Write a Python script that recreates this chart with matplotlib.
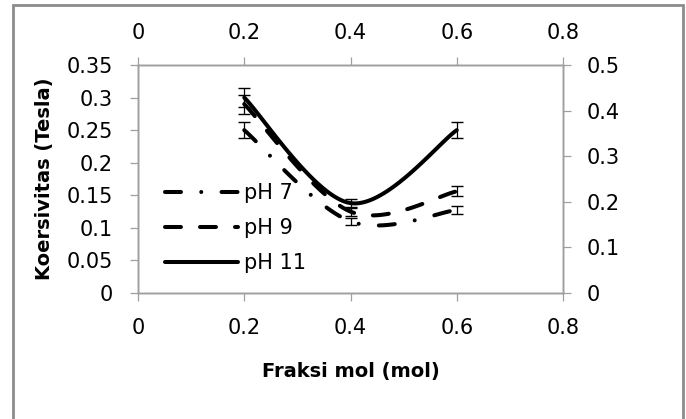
import numpy as np
import matplotlib
matplotlib.use("Agg")
import matplotlib.pyplot as plt
from matplotlib.patches import Rectangle

plt.rcParams['font.family'] = ['DejaVu Sans']
plt.rcParams['lines.scale_dashes'] = False

# ---- data ----
fraksi = [0.2, 0.4, 0.6]
ph7 = [0.25, 0.11, 0.1275]
ph9 = [0.29, 0.125, 0.156]
ph11 = [0.30, 0.138, 0.25]
err7 = [0.0125, 0.0055, 0.0064]
err9 = [0.0145, 0.0063, 0.0078]
err11 = [0.015, 0.0069, 0.0125]
labels = ["pH 7", "pH 9", "pH 11"]

x_ticks = [0, 0.2, 0.4, 0.6, 0.8]
x_ticklabels = ["0", "0.2", "0.4", "0.6", "0.8"]
y_ticks = [0, 0.05, 0.1, 0.15, 0.2, 0.25, 0.3, 0.35]
y_ticklabels = ["0", "0.05", "0.1", "0.15", "0.2", "0.25", "0.3", "0.35"]
y2_ticks = [0, 0.1, 0.2, 0.3, 0.4, 0.5]
y2_ticklabels = ["0", "0.1", "0.2", "0.3", "0.4", "0.5"]


def smooth(xs, ys, n=60):
    P = np.column_stack([xs, ys]).astype(float)
    ext = np.vstack([P[0], P, P[-1]])
    out = []
    for i in range(len(P) - 1):
        p0, p1, p2, p3 = ext[i], ext[i + 1], ext[i + 2], ext[i + 3]
        c1 = p1 + (p2 - p0) / 6.0
        c2 = p2 - (p3 - p1) / 6.0
        t = np.linspace(0, 1, n)[:, None]
        seg = ((1 - t) ** 3) * p1 + 3 * ((1 - t) ** 2) * t * c1 + 3 * (1 - t) * t ** 2 * c2 + t ** 3 * p2
        out.append(seg if i == 0 else seg[1:])
    s = np.vstack(out)
    return s[:, 0], s[:, 1]


W, H = 686, 419
fig = plt.figure(figsize=(W / 100, H / 100), dpi=100)
ax = fig.add_axes([138 / W, 1 - 293 / H, (563 - 138) / W, (293 - 65) / H])

spine_c = '#a0a0a0'
lw = 2.9
styles = [
    dict(dashes=(11.5, 14.6, 0.01, 14.6)),
    dict(dashes=(11.5, 13.7)),
    dict(linestyle='-'),
]
handles = []
for ys, es, st, lab in zip([ph7, ph9, ph11], [err7, err9, err11], styles, labels):
    sx, sy = smooth(fraksi, ys)
    ln, = ax.plot(sx, sy, color='black', lw=lw, dash_capstyle='round',
                  solid_capstyle='round', label=lab, **st)
    ax.errorbar(fraksi, ys, yerr=es, fmt='none', ecolor='black', elinewidth=0.9,
                capsize=4.3, capthick=1.0)
    handles.append(ln)

ax.set_xlim(0, 0.8)
ax.set_ylim(0, 0.35)
ax.set_xticks(x_ticks)
ax.set_xticklabels(x_ticklabels)
ax.set_yticks(y_ticks)
ax.set_yticklabels(y_ticklabels)

fs = 15
ax.tick_params(axis='both', direction='out', length=6, width=0.9, color=spine_c,
               labelsize=fs, pad=12)
ax.tick_params(axis='x', pad=12)

axr = ax.twinx()
axr.set_ylim(0, 0.5)
axr.set_yticks(y2_ticks)
axr.set_yticklabels(y2_ticklabels)
axr.tick_params(axis='y', direction='out', length=6, width=0.9, color=spine_c,
                labelsize=fs, pad=11)

axt = ax.twiny()
axt.set_xlim(0, 0.8)
axt.set_xticks(x_ticks)
axt.set_xticklabels(x_ticklabels)
axt.tick_params(axis='x', direction='out', length=6, width=0.9, color=spine_c,
                labelsize=fs, pad=10)

for a in (ax, axr, axt):
    for s in a.spines.values():
        s.set_color(spine_c)
        s.set_linewidth(1.0)

ax.set_ylabel("Koersivitas (Tesla)", fontsize=14, fontweight='bold', labelpad=9)
ax.set_xlabel("Fraksi mol (mol)", fontsize=14, fontweight='bold', labelpad=17)

leg = ax.legend(handles=handles, loc='upper left',
                bbox_to_anchor=(165 / W, 1 - 183 / H), bbox_transform=fig.transFigure,
                frameon=False, fontsize=fs, handlelength=3.5, handletextpad=0.3,
                borderpad=0, borderaxespad=0, labelspacing=0.72)

fig.patches.append(Rectangle((13 / W, -0.1), (683 - 13) / W, 1 - 5 / H + 0.1,
                             transform=fig.transFigure, fill=False,
                             edgecolor='#8c8c8c', linewidth=2.0, zorder=10))

fig.savefig("out.png", dpi=100)
